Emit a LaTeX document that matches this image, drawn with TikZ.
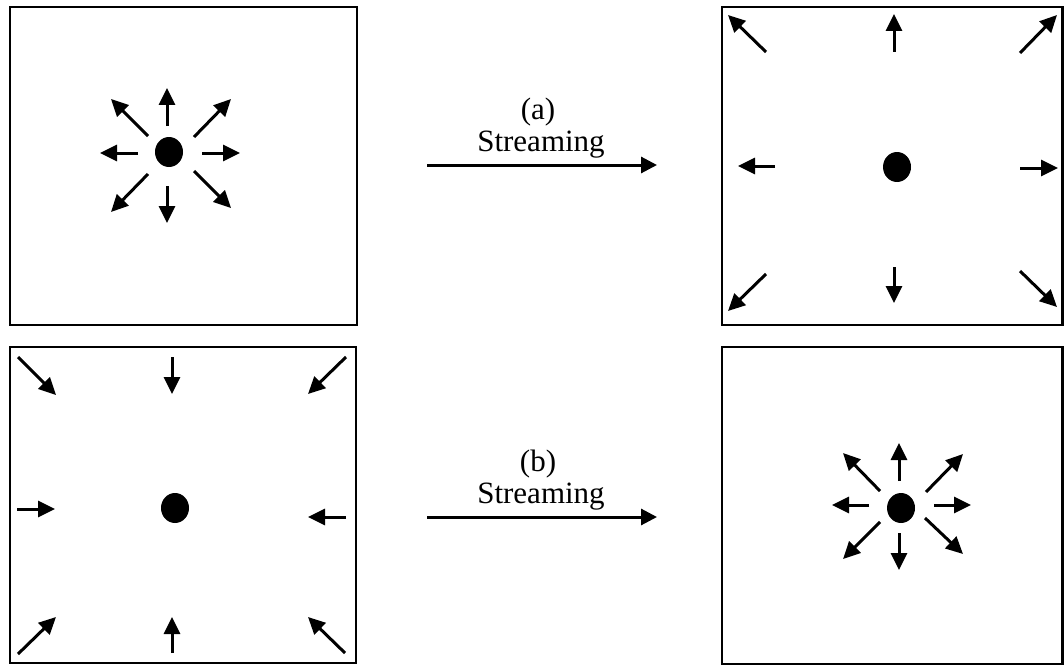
\documentclass[tikz,border=0pt]{standalone}
\usepackage{fontspec}
\setmainfont{Liberation Serif}
\usetikzlibrary{arrows.meta}
\tikzset{
  panel/.style={draw=black, line width=2.8pt},
  ray/.style={line width=3pt, -{Triangle[length=17pt,width=16pt]}},
  flow/.style={line width=3pt, -{Triangle[length=16pt,width=16pt]}},
  particle/.style={fill=black},
  lbl/.style={font=\fontsize{31}{31}\selectfont, anchor=base, inner sep=0pt}
}
\begin{document}
\begin{tikzpicture}[x=1pt,y=-1pt]
\useasboundingbox (0,0) rectangle (1064,666);
% panels
\draw[panel] (10,7) rectangle (357,325);
\draw[panel] (722,7) rectangle (1062.6,325);
\draw[panel] (10,347) rectangle (356,663);
\draw[panel] (722,347) rectangle (1062.6,664);
% particles
\fill[particle] (169,152) ellipse [x radius=14, y radius=15];
\fill[particle] (897,167) ellipse [x radius=14, y radius=15];
\fill[particle] (175,508) ellipse [x radius=14, y radius=15];
\fill[particle] (901,508) ellipse [x radius=14, y radius=15];
% panel 1: outgoing, near the centre
\draw[ray] (167,126) -- (167,88);
\draw[ray] (167,186) -- (167,223);
\draw[ray] (138,153) -- (100,153);
\draw[ray] (202,153) -- (240,153);
\draw[ray] (148,136) -- (111,99);
\draw[ray] (194,137) -- (231,99);
\draw[ray] (148,174) -- (111,212);
\draw[ray] (194,171) -- (231,208);
% panel 2: outgoing, at the walls
\draw[ray] (766,52) -- (728,15);
\draw[ray] (894,52) -- (894,14);
\draw[ray] (1020,53) -- (1057,15);
\draw[ray] (775,166) -- (738,166);
\draw[ray] (1020,168) -- (1058,168);
\draw[ray] (766,274) -- (728,311);
\draw[ray] (894,267) -- (894,303);
\draw[ray] (1020,271) -- (1057,307);
% panel 3: incoming, at the walls
\draw[ray] (18,357) -- (56,395);
\draw[ray] (172,357) -- (172,394);
\draw[ray] (346,357) -- (308,394);
\draw[ray] (17,509) -- (55,509);
\draw[ray] (346,517) -- (308,517);
\draw[ray] (18,654) -- (56,617);
\draw[ray] (172,653) -- (172,617);
\draw[ray] (345,653) -- (308,617);
% panel 4: outgoing, near the centre
\draw[ray] (899,481) -- (899,443);
\draw[ray] (899,533) -- (899,570);
\draw[ray] (869,505) -- (832,505);
\draw[ray] (934,505) -- (971,505);
\draw[ray] (880,491) -- (843,453);
\draw[ray] (926,492) -- (963,454);
\draw[ray] (880,522) -- (843,559);
\draw[ray] (925,518) -- (963,554);
% streaming arrows and labels
\coordinate (sa1) at (427,165);
\coordinate (sa2) at (657,165);
\draw[flow] (sa1) -- (sa2);
\node[lbl] (la) at (538,120) {(a)};
\node[lbl] (sa) at (541,151) {Streaming};
\coordinate (sb1) at (427,517);
\coordinate (sb2) at (657,517);
\draw[flow] (sb1) -- (sb2);
\node[lbl] (lb) at (538,471) {(b)};
\node[lbl] (sb) at (541,503) {Streaming};
\end{tikzpicture}
\end{document}
